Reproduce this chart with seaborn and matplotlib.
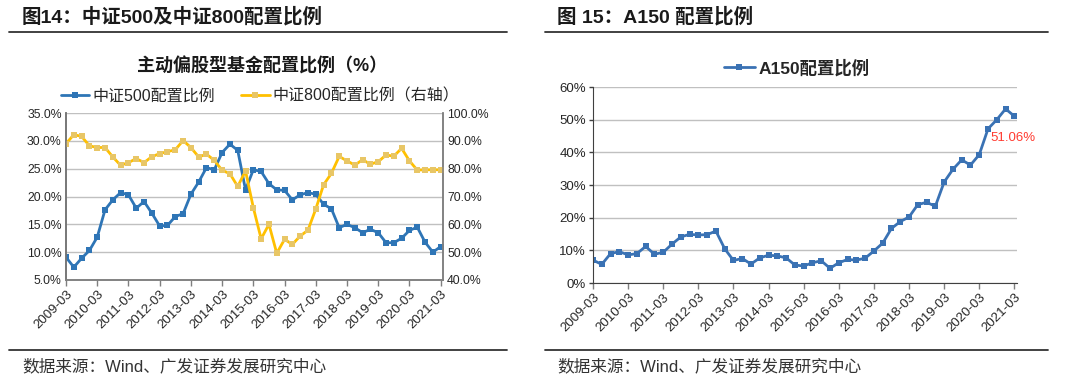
import matplotlib
matplotlib.use('Agg')
import matplotlib.pyplot as plt
import seaborn as sns
import pandas as pd
from matplotlib.lines import Line2D
from matplotlib.ticker import FuncFormatter

sns.set_style('white')
plt.rcParams['font.family'] = ['Liberation Sans', 'Noto Sans CJK SC', 'DejaVu Sans']
plt.rcParams['axes.unicode_minus'] = False

# 季度序列：2009-03 ~ 2021-03
quarters = [f'{y}-{m:02d}' for y in range(2009, 2022) for m in (3, 6, 9, 12)][:49]
year_labels = [f'{y}-03' for y in range(2009, 2022)]

csi500 = [9.1, 7.3, 8.9, 10.3, 12.7, 17.6, 19.4, 20.7, 20.3, 17.9, 19.1, 17.0,
          14.7, 14.8, 16.4, 16.9, 20.4, 22.6, 25.2, 24.8, 27.9, 29.4, 28.3, 21.2,
          24.8, 24.5, 22.3, 21.2, 21.1, 19.4, 20.3, 20.7, 20.4, 18.6, 17.8, 14.4,
          15.0, 14.4, 13.5, 14.1, 13.5, 11.7, 11.7, 12.5, 13.9, 14.5, 11.8, 10.0, 11.0]
csi800 = [89.0, 92.2, 91.6, 88.2, 87.6, 87.6, 84.2, 81.2, 82.2, 83.6, 82.2, 84.3,
          85.4, 86.1, 86.8, 90.1, 87.6, 84.2, 85.2, 83.0, 79.4, 78.2, 73.6, 79.2,
          66.0, 54.8, 60.0, 49.6, 54.6, 52.8, 55.8, 57.9, 65.5, 74.2, 78.3, 84.4,
          82.8, 81.3, 83.2, 81.6, 82.5, 84.9, 84.5, 87.3, 82.8, 79.5, 79.6, 79.6, 79.6]
a150 = [7.0, 5.7, 9.0, 9.6, 8.6, 9.0, 11.2, 8.8, 9.4, 11.9, 14.1, 14.9,
        14.7, 14.8, 15.9, 10.5, 6.9, 7.5, 5.8, 7.7, 8.5, 8.3, 7.7, 5.5,
        5.2, 6.2, 6.8, 4.5, 6.2, 7.2, 7.0, 7.6, 9.8, 12.2, 16.7, 18.8,
        20.2, 24.0, 24.7, 23.5, 30.9, 34.8, 37.7, 36.1, 39.3, 47.2, 50.0, 53.3, 51.06]

df = pd.DataFrame({'q': range(len(quarters)), 'quarter': quarters,
                   'csi500': csi500, 'csi800': csi800, 'a150': a150})

blue = '#2E75B6'
blue2 = '#3A72B4'
yellow = '#FFC000'
yellow_mk = '#E8C666'
grid_c = '#C0C0C0'
spine_c = '#7F7F7F'
dark = '#1A1A1A'

fig = plt.figure(figsize=(10.8, 3.82), dpi=100)


def style_x(ax):
    ax.set_xticks(range(0, 49, 4))
    ax.set_xticklabels(year_labels, rotation=45, ha='right', rotation_mode='anchor', fontsize=9.5)
    ax.tick_params(axis='x', length=4, width=1, color=spine_c, pad=2, direction='out', bottom=True)
    ax.set_xlabel('')


# ---------- 左图 ----------
ax1 = fig.add_axes([66 / 1080, 1 - 280 / 382, 377 / 1080, 167 / 382])
sns.lineplot(data=df, x='q', y='csi500', ax=ax1, color=blue, lw=2.0, marker='s',
             markersize=4.2, markeredgewidth=0, markerfacecolor=blue, label='中证500配置比例', legend=False)
ax1.set_ylim(5, 35)
ax1.set_yticks(range(5, 36, 5))
ax1.yaxis.set_major_formatter(FuncFormatter(lambda v, p: f'{v:.1f}%'))
ax1.set_xlim(0, 48.3)
ax1.grid(axis='y', color=grid_c, lw=1)
ax1.set_axisbelow(True)
ax1.set_ylabel('')
style_x(ax1)
ax1.tick_params(axis='y', labelsize=8.8, length=0, pad=3)

ax1r = ax1.twinx()
sns.lineplot(data=df, x='q', y='csi800', ax=ax1r, color=yellow, lw=2.0, marker='s',
             markersize=4.2, markeredgewidth=0, markerfacecolor=yellow_mk, label='中证800配置比例（右轴）', legend=False)
ax1r.set_ylim(40, 100)
ax1r.set_yticks(range(40, 101, 10))
ax1r.yaxis.set_major_formatter(FuncFormatter(lambda v, p: f'{v:.1f}%'))
ax1r.set_ylabel('')
ax1r.set_xlim(0, 48.3)
ax1r.tick_params(axis='y', labelsize=8.8, length=0, pad=3)
ax1r.grid(False)

for a in (ax1, ax1r):
    a.spines['top'].set_visible(False)
    for s in ('left', 'right', 'bottom'):
        a.spines[s].set_color(spine_c)
        a.spines[s].set_linewidth(1.1)
ax1.spines['left'].set_color('#404040')

h1, l1 = ax1.get_legend_handles_labels()
h2, l2 = ax1r.get_legend_handles_labels()
ax1.legend(h1 + h2, l1 + l2, loc='center', bbox_to_anchor=(0.515, 1.1), ncol=2, frameon=False,
           fontsize=11.5, handlelength=1.8, handletextpad=0.2, columnspacing=1.6)
ax1.text(0.52, 1.28, '主动偏股型基金配置比例（%）', transform=ax1.transAxes, ha='center', va='center',
         fontsize=13, fontweight='bold', color=dark)

# ---------- 右图 ----------
ax2 = fig.add_axes([593 / 1080, 1 - 283 / 382, 424 / 1080, 196 / 382])
sns.lineplot(data=df, x='q', y='a150', ax=ax2, color=blue2, lw=2.0, marker='s',
             markersize=4.0, markeredgewidth=0, label='A150配置比例', legend=False)
ax2.set_ylim(0, 60)
ax2.set_yticks(range(0, 61, 10))
ax2.yaxis.set_major_formatter(FuncFormatter(lambda v, p: f'{v:.0f}%'))
ax2.set_xlim(0, 48.3)
ax2.grid(axis='y', color=grid_c, lw=1)
ax2.set_axisbelow(True)
ax2.set_ylabel('')
style_x(ax2)
ax2.tick_params(axis='y', labelsize=9.5, length=3, width=1, color='#404040', pad=2, left=True)
ax2.spines['top'].set_visible(False)
ax2.spines['right'].set_visible(False)
ax2.spines['left'].set_color('#404040')
ax2.spines['bottom'].set_color('#404040')
ax2.legend(loc='center', bbox_to_anchor=(0.48, 1.1), frameon=False,
           handlelength=1.8, handletextpad=0.2, prop={'weight': 'bold', 'size': 12.5})
ax2.annotate(f'{a150[-1]:.2f}%', xy=(df['q'].iloc[-1], a150[-1]), xytext=(-1, -16),
             textcoords='offset points', ha='center', va='center', color='#FF3B30', fontsize=9.5)

# ---------- 标题、分隔线、来源 ----------
fig.text(22 / 1080, 1 - 17 / 382, '图14：中证500及中证800配置比例', fontsize=14, fontweight='bold',
         color=dark, va='center', ha='left')
fig.text(557 / 1080, 1 - 17 / 382, '图 15：A150 配置比例', fontsize=14, fontweight='bold',
         color=dark, va='center', ha='left')
for x0, x1 in ((9, 507), (545, 1048)):
    for yy in (31.7, 349.5):
        fig.add_artist(Line2D([x0 / 1080, x1 / 1080], [1 - yy / 382] * 2, color='#333333', lw=1.3))
fig.text(22 / 1080, 1 - 366 / 382, '数据来源：Wind、广发证券发展研究中心', fontsize=12,
         color='#333333', va='center', ha='left')
fig.text(557 / 1080, 1 - 366 / 382, '数据来源：Wind、广发证券发展研究中心', fontsize=12,
         color='#333333', va='center', ha='left')

fig.savefig('out.png', dpi=100)
